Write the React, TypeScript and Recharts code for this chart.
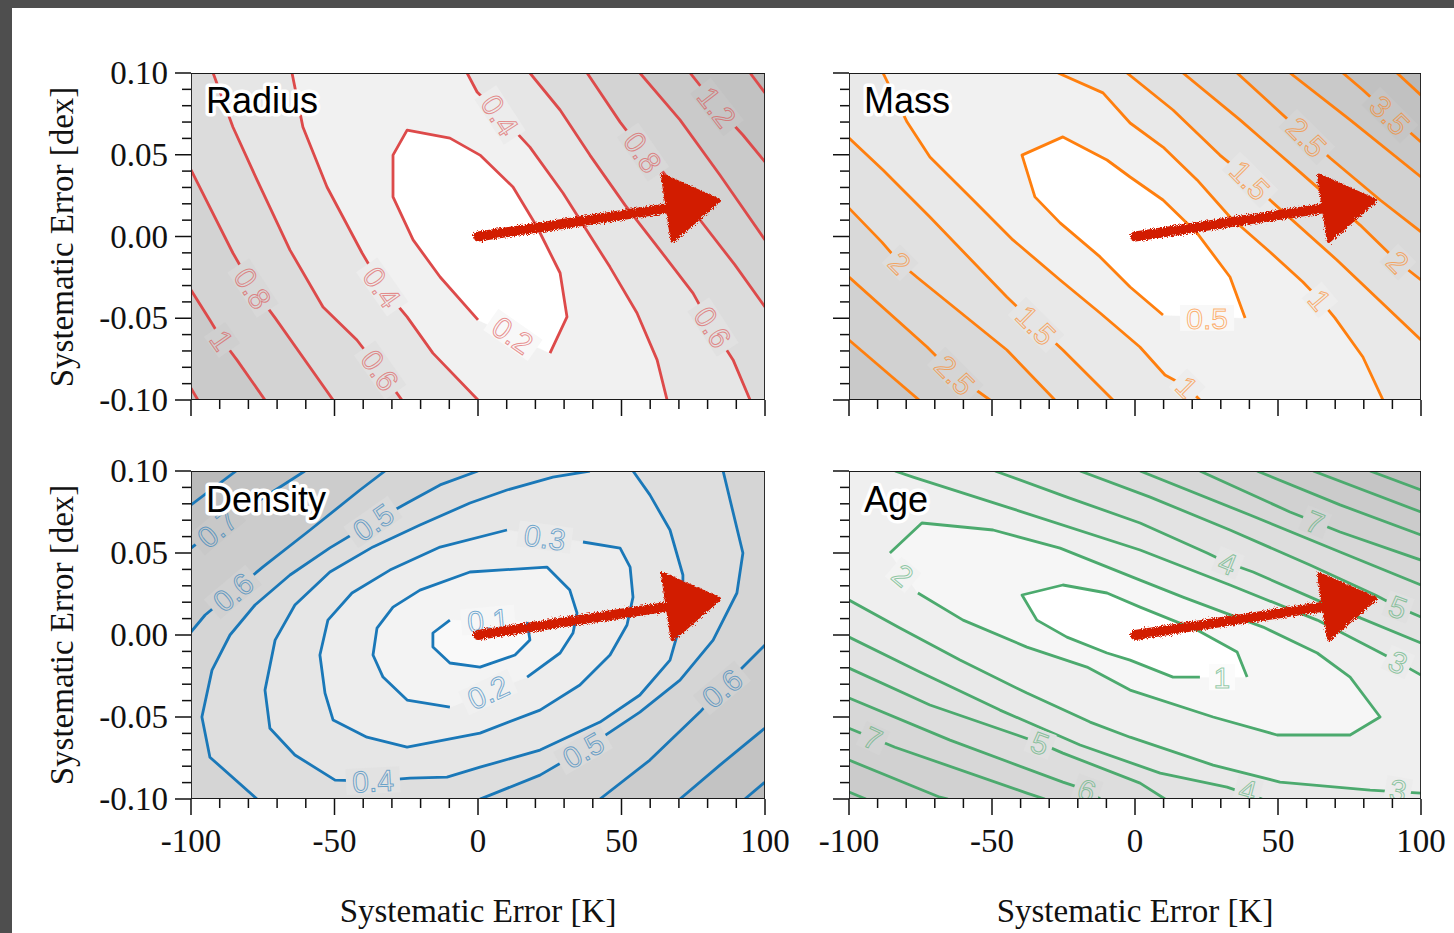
import React from "react";
import { Scatter, ScatterChart, XAxis, YAxis } from "recharts";

type Pt = [number, number];
type Lbl = { x: number; y: number; t: string; a: number; bg: string };
type Fill = { pts: Pt[]; color: string };

const xTicks = [-100, -90, -80, -70, -60, -50, -40, -30, -20, -10, 0, 10, 20, 30, 40, 50, 60, 70, 80, 90, 100];
const xMajor = [-100, -50, 0, 50, 100];
const xMajorLabels = ["-100", "-50", "0", "50", "100"];
const yTicks = [-0.1, -0.09, -0.08, -0.07, -0.06, -0.05, -0.04, -0.03, -0.02, -0.01, 0, 0.01, 0.02, 0.03, 0.04, 0.05, 0.06, 0.07, 0.08, 0.09, 0.1];
const yMajor = [-0.1, -0.05, 0, 0.05, 0.1];
const yMajorLabels = ["-0.10", "-0.05", "0.00", "0.05", "0.10"];

const TL: Pt = [-100, 0.1];
const TR: Pt = [100, 0.1];
const BL: Pt = [-100, -0.1];
const BR: Pt = [100, -0.1];
const frame: Pt[] = [BL, BR, TR, TL];
const arrow: Pt[] = [[0, 0], [84, 0.022]];

// Radius
const r02: Pt[] = [[0, -0.051], [-13.2, -0.0248], [-22.6, -0.0021], [-29.6, 0.0242], [-29.6, 0.0498], [-24.7, 0.0651], [-9.8, 0.0602], [0.7, 0.0498], [12.2, 0.0303], [20.6, 0.0058], [28.6, -0.0223], [31, -0.0492], [25.1, -0.0713]];
const r04L: Pt[] = [[-64.8, 0.1], [-61, 0.067], [-52.6, 0.0303], [-40.4, -0.0101], [-33.4, -0.0309], [-24.7, -0.0492], [-15.7, -0.0713], [0, -0.1]];
const r06L: Pt[] = [[-92.3, 0.1], [-85.4, 0.067], [-77, 0.0346], [-65.5, -0.0083], [-54, -0.0431], [-42.2, -0.0633], [-34.1, -0.0817], [-26.5, -0.1]];
const r08L: Pt[] = [[-100, 0.0407], [-85.4, -0.0101], [-78.4, -0.0315], [-70.7, -0.0498], [-50.5, -0.1]];
const r10L: Pt[] = [[-100, -0.0327], [-93.4, -0.0511], [-89.2, -0.0633], [-84, -0.0755], [-74.2, -0.1]];
const r12L: Pt[] = [[-100, -0.0927], [-97.6, -0.1]];
const r04R: Pt[] = [[-3.8, 0.1], [-0.3, 0.0884], [7.7, 0.0743], [18.1, 0.0547], [29.6, 0.0266], [46, -0.0187], [55.4, -0.0468], [62.4, -0.0755], [65.9, -0.1]];
const r06R: Pt[] = [[18.1, 0.1], [28.6, 0.0774], [39, 0.0498], [51.2, 0.0193], [63.4, -0.0083], [74.9, -0.0346], [81.5, -0.0554], [88.9, -0.0755], [94.8, -0.1]];
const r08R: Pt[] = [[38, 0.1], [49.5, 0.07], [57.5, 0.0517], [64.5, 0.0394], [77.4, 0.0101], [89.5, -0.0174], [100, -0.0431]];
const r10R: Pt[] = [[56.4, 0.1], [70.4, 0.0713], [84.3, 0.0376], [100, -0.0021]];
const r12R: Pt[] = [[73.9, 0.1], [83.3, 0.0792], [92.3, 0.0621], [100, 0.0456]];
const r14R: Pt[] = [[94.8, 0.1], [100, 0.0878]];

const radiusFills: Fill[] = [
  { pts: frame, color: "#f1f1f1" },
  { pts: [...r04L, BL, TL], color: "#e6e6e6" },
  { pts: [...r04R, BR, TR], color: "#e6e6e6" },
  { pts: [...r06L, BL, TL], color: "#dcdcdc" },
  { pts: [...r06R, BR, TR], color: "#dcdcdc" },
  { pts: [...r08L, BL], color: "#d3d3d3" },
  { pts: [...r08R, TR], color: "#d3d3d3" },
  { pts: [...r10L, BL], color: "#cacaca" },
  { pts: [...r10R, TR], color: "#cacaca" },
  { pts: [...r12L, BL], color: "#c2c2c2" },
  { pts: [...r12R, TR], color: "#c2c2c2" },
  { pts: [...r14R, TR], color: "#bababa" },
  { pts: r02, color: "#ffffff" },
];
const radiusLines: Pt[][] = [r02, r04L, r06L, r08L, r10L, r12L, r04R, r06R, r08R, r10R, r12R, r14R];
const radiusLabels: Lbl[] = [
  { x: 7.7, y: 0.0743, t: "0.4", a: 57, bg: "#ececec" },
  { x: 57.5, y: 0.0517, t: "0.8", a: 55, bg: "#d8d8d8" },
  { x: 83.3, y: 0.0792, t: "1.2", a: 52, bg: "#c6c6c6" },
  { x: 81.9, y: -0.0554, t: "0.6", a: 57, bg: "#e1e1e1" },
  { x: 12.2, y: -0.0602, t: "0.2", a: 35, bg: "#f8f8f8" },
  { x: -78.4, y: -0.0315, t: "0.8", a: 57, bg: "#d8d8d8" },
  { x: -33.4, y: -0.0309, t: "0.4", a: 55, bg: "#ececec" },
  { x: -34.1, y: -0.0817, t: "0.6", a: 55, bg: "#e1e1e1" },
  { x: -89.2, y: -0.0633, t: "1", a: 55, bg: "#cfcfcf" },
];

// Mass
const m05: Pt[] = [[9.8, -0.048], [-1.7, -0.0309], [-12.2, -0.0125], [-26.2, 0.0083], [-35, 0.0242], [-39.5, 0.0498], [-25.2, 0.0609], [-9.8, 0.0468], [-1.7, 0.0364], [9.8, 0.0223], [21.7, 0.0021], [33.2, -0.0248], [38.5, -0.0498]];
const m10L: Pt[] = [[-88.1, 0.1], [-79.7, 0.07], [-71.7, 0.0486], [-56.6, 0.0223], [-42.7, -0.0021], [-26.2, -0.0266], [-12.2, -0.0468], [1.7, -0.0676], [10.5, -0.0847], [18.2, -0.092], [22.7, -0.1]];
const m10R: Pt[] = [[-26.9, 0.1], [-11.2, 0.0878], [-1.7, 0.0694], [9.8, 0.0547], [21.7, 0.0346], [33.2, 0.0119], [47.2, -0.0095], [58.7, -0.0278], [64.7, -0.0388], [69.9, -0.0498], [79.7, -0.0737], [86.7, -0.1]];
const m15L: Pt[] = [[-100, 0.0602], [-88.1, 0.0407], [-71.7, 0.0119], [-44.8, -0.037], [-34.6, -0.0541], [-25.2, -0.0694], [-7.7, -0.1]];
const m15R: Pt[] = [[-2.8, 0.1], [13.3, 0.0774], [29.7, 0.0498], [40.2, 0.0346], [47.2, 0.0223], [70.6, -0.0144], [100, -0.0633]];
const m20L: Pt[] = [[-100, 0.0174], [-88.5, -0.0034], [-82.2, -0.0162], [-75.9, -0.0254], [-44.8, -0.0694], [-28, -0.1]];
const m20R: Pt[] = [[16.8, 0.1], [36.7, 0.0713], [57.7, 0.0394], [78.7, 0.007], [92, -0.0156], [100, -0.0266]];
const m25L: Pt[] = [[-100, -0.0248], [-72.7, -0.0676], [-62.9, -0.0847], [-50.7, -0.1]];
const m25R: Pt[] = [[35.7, 0.1], [60.1, 0.0609], [68.2, 0.048], [85.7, 0.0223], [100, 0.0028]];
const m30L: Pt[] = [[-100, -0.0633], [-75.5, -0.1]];
const m30R: Pt[] = [[54.2, 0.1], [75.2, 0.0713], [100, 0.0364]];
const m35R: Pt[] = [[72.7, 0.1], [79.7, 0.0896], [89.2, 0.0743], [100, 0.0578]];
const m40R: Pt[] = [[91.6, 0.1], [100, 0.0865]];

const massFills: Fill[] = [
  { pts: frame, color: "#f1f1f1" },
  { pts: [...m10L, BL, TL], color: "#e9e9e9" },
  { pts: [...m10R, BR, TR], color: "#e9e9e9" },
  { pts: [...m15L, BL], color: "#e1e1e1" },
  { pts: [...m15R, TR], color: "#e1e1e1" },
  { pts: [...m20L, BL], color: "#d9d9d9" },
  { pts: [...m20R, TR], color: "#d9d9d9" },
  { pts: [...m25L, BL], color: "#d1d1d1" },
  { pts: [...m25R, TR], color: "#d1d1d1" },
  { pts: [...m30L, BL], color: "#c9c9c9" },
  { pts: [...m30R, TR], color: "#c9c9c9" },
  { pts: [...m35R, TR], color: "#c1c1c1" },
  { pts: [...m40R, TR], color: "#b9b9b9" },
  { pts: m05, color: "#ffffff" },
];
const massLines: Pt[][] = [m05, m10L, m10R, m15L, m15R, m20L, m20R, m25L, m25R, m30L, m30R, m35R, m40R];
const massLabels: Lbl[] = [
  { x: -82.2, y: -0.0162, t: "2", a: 45, bg: "#dddddd" },
  { x: -34.6, y: -0.0541, t: "1.5", a: 45, bg: "#e5e5e5" },
  { x: -62.9, y: -0.0847, t: "2.5", a: 45, bg: "#d5d5d5" },
  { x: 40.2, y: 0.0346, t: "1.5", a: 45, bg: "#e5e5e5" },
  { x: 60.1, y: 0.0609, t: "2.5", a: 45, bg: "#d5d5d5" },
  { x: 89.2, y: 0.0743, t: "3.5", a: 45, bg: "#c5c5c5" },
  { x: 92, y: -0.0156, t: "2", a: 45, bg: "#dddddd" },
  { x: 64.7, y: -0.0388, t: "1", a: 50, bg: "#ededed" },
  { x: 25.2, y: -0.0498, t: "0.5", a: 0, bg: "#f8f8f8" },
  { x: 18.2, y: -0.092, t: "1", a: 45, bg: "#ededed" },
];

// Density
const d01: Pt[] = [[17.1, 0.0079], [18.1, -0.003], [12.9, -0.0122], [0.7, -0.0196], [-9.8, -0.0171], [-15.7, -0.0074], [-15.7, 0.0012], [-9.8, 0.0091]];
const d02: Pt[] = [[17.1, -0.0257], [28.6, -0.011], [33.1, 0.0012], [34.5, 0.0134], [32, 0.0274], [24, 0.0414], [-2.8, 0.0384], [-20.2, 0.0274], [-29.6, 0.017], [-35.2, 0.0042], [-36.6, -0.0122], [-33.1, -0.0257], [-24.7, -0.0397], [-9.8, -0.044]];
const d03: Pt[] = [[36.6, 0.0567], [49.5, 0.053], [53, 0.0414], [54, 0.0231], [51.9, 0.0061], [46, -0.0122], [35.5, -0.0305], [21.6, -0.0458], [0.7, -0.0598], [-24.7, -0.0684], [-38.7, -0.0623], [-50.5, -0.0519], [-53.3, -0.0354], [-55.1, -0.0122], [-52.3, 0.0091], [-43.9, 0.0256], [-30.7, 0.0396], [-13.2, 0.0536], [10.1, 0.064]];
const d04: Pt[] = [[39, 0.1], [26.1, 0.0963], [10.1, 0.0884], [-2.8, 0.0805], [-20.2, 0.0671], [-36.6, 0.0537], [-51.6, 0.0384], [-63.8, 0.0183], [-70.7, -0.0031], [-74.2, -0.0336], [-72.5, -0.0568], [-63.8, -0.0732], [-49.8, -0.0885], [-36.6, -0.0891], [-23.7, -0.0873], [-10.8, -0.0867], [0.7, -0.0806], [21.6, -0.0702], [42.5, -0.0531], [56.4, -0.0366], [66.9, -0.0153], [71.4, 0.0122], [71.4, 0.0366], [66.9, 0.064], [59.9, 0.0854], [54, 0.1]];
const d05L: Pt[] = [[-77, -0.1], [-93.4, -0.0745], [-96.2, -0.05], [-92.7, -0.0214], [-86.4, 0], [-77.7, 0.0183], [-65.5, 0.0366], [-51.6, 0.0531], [-36.6, 0.0689], [-24.7, 0.0805], [-13.2, 0.0915], [0, 0.1]];
const d05R: Pt[] = [[85.4, 0.1], [92.3, 0.05], [90.2, 0.0256], [81.9, -0.0031], [70.4, -0.0275], [56.4, -0.047], [36.6, -0.0702], [21.6, -0.0854], [4.2, -0.0976], [0.7, -0.1]];
const d06UL: Pt[] = [[-100, 0.0018], [-95.1, 0.0122], [-85.4, 0.0262], [-74.9, 0.0415], [-58.5, 0.064], [-41.1, 0.0884], [-32.4, 0.1]];
const d07UL: Pt[] = [[-100, 0.053], [-90.9, 0.0652], [-76, 0.0823], [-60.3, 0.1]];
const d08UL: Pt[] = [[-100, 0.0793], [-84.3, 0.1]];
const d06LR: Pt[] = [[42.5, -0.1], [59.9, -0.0763], [77.3, -0.047], [85, -0.0324], [100, -0.0061]];
const d07LR: Pt[] = [[70.4, -0.1], [84.3, -0.0793], [100, -0.0567]];
const d08LR: Pt[] = [[93, -0.1], [100, -0.0897]];

const densityFills: Fill[] = [
  { pts: frame, color: "#d5d5d5" },
  { pts: [...d06UL, TL], color: "#cccccc" },
  { pts: [...d07UL, TL], color: "#c3c3c3" },
  { pts: [...d08UL, TL], color: "#bababa" },
  { pts: [...d06LR, BR], color: "#cccccc" },
  { pts: [...d07LR, BR], color: "#c3c3c3" },
  { pts: [...d08LR, BR], color: "#bababa" },
  { pts: [...d05L, ...d05R], color: "#dedede" },
  { pts: d04, color: "#e6e6e6" },
  { pts: d03, color: "#ededed" },
  { pts: d02, color: "#f3f3f3" },
  { pts: d01, color: "#f9f9f9" },
];
const densityLines: Pt[][] = [d01, d02, d03, d04, d05L, d05R, d06UL, d07UL, d08UL, d06LR, d07LR, d08LR];
const densityLabels: Lbl[] = [
  { x: 3.5, y: 0.0091, t: "0.1", a: -5, bg: "#f6f6f6" },
  { x: 3.5, y: -0.0348, t: "0.2", a: -25, bg: "#f0f0f0" },
  { x: 23.3, y: 0.0597, t: "0.3", a: 8, bg: "#eaeaea" },
  { x: -36.6, y: -0.0888, t: "0.4", a: -3, bg: "#e2e2e2" },
  { x: -36.6, y: 0.0689, t: "0.5", a: -35, bg: "#dadada" },
  { x: 36.6, y: -0.0702, t: "0.5", a: -30, bg: "#dadada" },
  { x: -85.4, y: 0.0262, t: "0.6", a: -40, bg: "#d1d1d1" },
  { x: 85, y: -0.0324, t: "0.6", a: -40, bg: "#d1d1d1" },
  { x: -90.9, y: 0.0652, t: "0.7", a: -40, bg: "#c8c8c8" },
];

// Age
const a1: Pt[] = [[39.2, -0.0257], [35.7, -0.0104], [21.7, 0.003], [1.8, 0.017], [-9.8, 0.0256], [-25.2, 0.0305], [-39.5, 0.0244], [-34.3, 0.0091], [-23.8, -0.0013], [-9.8, -0.011], [-1.7, -0.0153], [13.3, -0.0257], [22.7, -0.0257]];
const a2: Pt[] = [[-75.9, 0.0256], [-60.1, 0.0091], [-37.8, -0.0074], [-16.8, -0.0196], [-1.7, -0.0336], [27.3, -0.05], [49.7, -0.061], [75.2, -0.061], [85.7, -0.05], [75.2, -0.0257], [63.7, -0.011], [44.8, 0.0048], [16.8, 0.0231], [1.8, 0.0335], [-26.2, 0.053], [-49.6, 0.064], [-74.5, 0.0683], [-85.7, 0.05]];
const a3U: Pt[] = [[-83.9, 0.1], [-77.6, 0.0963], [-44.7, 0.078], [1.8, 0.0518], [33.2, 0.0305], [63.7, 0.0091], [84, -0.0092], [92, -0.0165], [100, -0.0244]];
const a4U: Pt[] = [[-48.9, 0.1], [-23.8, 0.0841], [1.8, 0.0683], [25.2, 0.05], [32.5, 0.0439], [41.3, 0.0384], [63.7, 0.0213], [100, -0.0049]];
const a5U: Pt[] = [[-19.2, 0.1], [5.3, 0.0841], [33.2, 0.064], [61.2, 0.0427], [84, 0.0244], [92, 0.017], [100, 0.011]];
const a6U: Pt[] = [[1.8, 0.1], [40.2, 0.0732], [71.7, 0.0506], [100, 0.0305]];
const a7U: Pt[] = [[22.7, 0.1], [54.2, 0.075], [63, 0.0689], [71.7, 0.0628], [100, 0.0457]];
const a8U: Pt[] = [[42.7, 0.1], [71.7, 0.0793], [100, 0.061]];
const a9U: Pt[] = [[62.3, 0.1], [100, 0.075]];
const a10U: Pt[] = [[82.2, 0.1], [100, 0.0884]];
const a3L: Pt[] = [[-100, 0.0213], [-82.2, 0.0042], [-61.2, -0.0153], [-37.8, -0.0354], [-15.7, -0.0531], [-1.7, -0.0623], [27.3, -0.0793], [50.7, -0.0897], [82.2, -0.0946], [100, -0.0964]];
const a4L: Pt[] = [[-100, -0.0013], [-75.2, -0.0226], [-47.2, -0.0458], [-19.2, -0.0671], [8.8, -0.0842], [32.2, -0.0928], [44.4, -0.1]];
const a5L: Pt[] = [[-100, -0.0202], [-71.7, -0.0427], [-41.3, -0.061], [-33.2, -0.0659], [-25.2, -0.072], [1.8, -0.0903], [10.5, -0.1]];
const a6L: Pt[] = [[-100, -0.0385], [-64.7, -0.0641], [-25.2, -0.0897], [-16.8, -0.0946], [-12.2, -0.1]];
const a7L: Pt[] = [[-100, -0.0568], [-83.9, -0.0684], [-37.8, -0.0964], [-31.5, -0.1]];
const a8L: Pt[] = [[-100, -0.0763], [-68.2, -0.0989], [-65.4, -0.1]];
const a9L: Pt[] = [[-100, -0.0958], [-94.1, -0.1]];

const ageFills: Fill[] = [
  { pts: frame, color: "#efefef" },
  { pts: [...a3U, TR], color: "#e9e9e9" },
  { pts: [...a4U, TR], color: "#e3e3e3" },
  { pts: [...a5U, TR], color: "#dddddd" },
  { pts: [...a6U, TR], color: "#d7d7d7" },
  { pts: [...a7U, TR], color: "#d1d1d1" },
  { pts: [...a8U, TR], color: "#cbcbcb" },
  { pts: [...a9U, TR], color: "#c5c5c5" },
  { pts: [...a10U, TR], color: "#bfbfbf" },
  { pts: [...a3L, BR, BL], color: "#e9e9e9" },
  { pts: [...a4L, BL], color: "#e3e3e3" },
  { pts: [...a5L, BL], color: "#dddddd" },
  { pts: [...a6L, BL], color: "#d7d7d7" },
  { pts: [...a7L, BL], color: "#d1d1d1" },
  { pts: [...a8L, BL], color: "#cbcbcb" },
  { pts: [...a9L, BL], color: "#c5c5c5" },
  { pts: a2, color: "#f6f6f6" },
  { pts: a1, color: "#ffffff" },
];
const ageLines: Pt[][] = [a1, a2, a3U, a4U, a5U, a6U, a7U, a8U, a9U, a10U, a3L, a4L, a5L, a6L, a7L, a8L, a9L];
const ageLabels: Lbl[] = [
  { x: 30.4, y: -0.0257, t: "1", a: 0, bg: "#fbfbfb" },
  { x: -81.1, y: 0.0366, t: "2", a: 40, bg: "#f3f3f3" },
  { x: 92, y: -0.0165, t: "3", a: 25, bg: "#ececec" },
  { x: 92, y: -0.0946, t: "3", a: 10, bg: "#ececec" },
  { x: 32.5, y: 0.0439, t: "4", a: 22, bg: "#e6e6e6" },
  { x: 39.5, y: -0.0946, t: "4", a: 15, bg: "#e6e6e6" },
  { x: 92, y: 0.017, t: "5", a: 20, bg: "#e0e0e0" },
  { x: -33.2, y: -0.0659, t: "5", a: 20, bg: "#e0e0e0" },
  { x: -16.8, y: -0.0946, t: "6", a: 20, bg: "#dadada" },
  { x: 63, y: 0.0689, t: "7", a: 22, bg: "#d4d4d4" },
  { x: -91.6, y: -0.0629, t: "7", a: 25, bg: "#d4d4d4" },
];

const rows = (p: Pt[]) => p.map(([x, y]) => ({ x, y }));
const toPath = (ps: { x: number; y: number }[], close: boolean) =>
  ps.map((p, i) => (i ? "L" : "M") + p.x.toFixed(1) + "," + p.y.toFixed(1)).join(" ") + (close ? " Z" : "");
const Empty = () => <g />;
const serif = "'Liberation Serif', 'Times New Roman', serif";
const sans = "'Liberation Sans', Arial, sans-serif";

function XTick(p: any) {
  const k = xMajor.indexOf(p.payload.value);
  return (
    <g>
      <line x1={p.x} x2={p.x} y1={p.y} y2={p.y + (k >= 0 ? 16 : 9)} stroke="#111" strokeWidth={1.5} />
      {k >= 0 && p.show ? (
        <text x={p.x} y={p.y + 53} textAnchor="middle" fontFamily={serif} fontSize={33} fill="#111">
          {xMajorLabels[k]}
        </text>
      ) : null}
    </g>
  );
}

function YTick(p: any) {
  const k = yMajor.findIndex((v) => Math.abs(v - p.payload.value) < 1e-9);
  return (
    <g>
      <line x1={p.x} x2={p.x - (k >= 0 ? 16 : 9)} y1={p.y} y2={p.y} stroke="#111" strokeWidth={1.5} />
      {k >= 0 && p.show ? (
        <text x={p.x - 23} y={p.y + 11} textAnchor="end" fontFamily={serif} fontSize={33} fill="#111">
          {yMajorLabels[k]}
        </text>
      ) : null}
    </g>
  );
}

function ContourLabel(p: any) {
  const d = p.payload as Lbl;
  const w = d.t.length * 14 + 12;
  return (
    <g transform={`rotate(${d.a} ${p.cx} ${p.cy})`}>
      <rect x={p.cx - w / 2} y={p.cy - 13} width={w} height={26} fill={d.bg} />
      <text
        x={p.cx}
        y={p.cy + 11}
        textAnchor="middle"
        fontFamily={sans}
        fontSize={30}
        fill="none"
        stroke={p.color}
        strokeOpacity={0.6}
        strokeWidth={1}
      >
        {d.t}
      </text>
    </g>
  );
}

function ArrowMark(p: any) {
  const [a, b] = p.points;
  const dx = b.x - a.x;
  const dy = b.y - a.y;
  const len = Math.hypot(dx, dy);
  const ux = dx / len;
  const uy = dy / len;
  const bx = b.x - ux * 52;
  const by = b.y - uy * 52;
  return (
    <g filter="url(#rough)">
      <defs>
        <filter id="rough" x="-10%" y="-30%" width="120%" height="160%">
          <feTurbulence type="fractalNoise" baseFrequency="0.9" numOctaves={2} result="n" />
          <feDisplacementMap in="SourceGraphic" in2="n" scale={6} />
        </filter>
      </defs>
      <line x1={a.x} y1={a.y} x2={bx + ux * 12} y2={by + uy * 12} stroke="#d21d00" strokeWidth={10} strokeLinecap="round" />
      <path
        d={`M${b.x},${b.y} L${bx - uy * 33},${by + ux * 33} L${bx + uy * 33},${by - ux * 33} Z`}
        fill="#d21d00"
        stroke="#d21d00"
        strokeWidth={4}
        strokeLinejoin="round"
      />
    </g>
  );
}

type PanelProps = {
  left: number;
  top: number;
  width: number;
  height: number;
  mTop: number;
  mRight: number;
  yw: number;
  xh: number;
  showX: boolean;
  showY: boolean;
  fills: Fill[];
  lines: Pt[][];
  labels: Lbl[];
  color: string;
};

function Panel(pp: PanelProps) {
  return (
    <div style={{ position: "absolute", left: pp.left, top: pp.top }}>
      <ScatterChart width={pp.width} height={pp.height} margin={{ top: pp.mTop, right: pp.mRight, bottom: 0, left: 0 }}>
        <XAxis
          type="number"
          dataKey="x"
          domain={[-100, 100]}
          ticks={xTicks}
          interval={0}
          allowDataOverflow
          height={pp.xh}
          tickSize={0}
          tickMargin={0}
          tickLine={false}
          axisLine={false}
          tick={(p: any) => <XTick {...p} show={pp.showX} />}
        />
        <YAxis
          type="number"
          dataKey="y"
          domain={[-0.1, 0.1]}
          ticks={yTicks}
          interval={0}
          allowDataOverflow
          width={pp.yw}
          tickSize={0}
          tickMargin={0}
          tickLine={false}
          axisLine={false}
          tick={(p: any) => <YTick {...p} show={pp.showY} />}
        />
        {pp.fills.map((f, i) => (
          <Scatter
            key={"f" + i}
            data={rows(f.pts)}
            shape={Empty}
            isAnimationActive={false}
            line={(lp: any) => <path d={toPath(lp.points, true)} fill={f.color} stroke={f.color} strokeWidth={0.6} />}
          />
        ))}
        {pp.lines.map((l, i) => (
          <Scatter
            key={"l" + i}
            data={rows(l)}
            shape={Empty}
            isAnimationActive={false}
            line={(lp: any) => (
              <path d={toPath(lp.points, false)} fill="none" stroke={pp.color} strokeWidth={2.8} strokeLinejoin="round" />
            )}
          />
        ))}
        <Scatter
          data={pp.labels}
          isAnimationActive={false}
          shape={(sp: any) => <ContourLabel {...sp} color={pp.color} />}
        />
        <Scatter data={rows(arrow)} shape={Empty} isAnimationActive={false} line={(lp: any) => <ArrowMark {...lp} />} />
        <Scatter
          data={rows(frame)}
          shape={Empty}
          isAnimationActive={false}
          line={(lp: any) => <path d={toPath(lp.points, true)} fill="none" stroke="#1a1a1a" strokeWidth={1.8} />}
        />
      </ScatterChart>
    </div>
  );
}

const titleStyle = {
  fontFamily: sans,
  fontSize: 36,
  fill: "#000",
  stroke: "#fff",
  strokeWidth: 7,
  strokeLinejoin: "round" as const,
  paintOrder: "stroke",
};

export default function App() {
  return (
    <div style={{ position: "absolute", left: 0, top: 0, width: 1454, height: 933, background: "#4e4e4e", overflow: "hidden" }}>
      <div style={{ position: "absolute", left: 12, top: 8, width: 1442, height: 925, background: "#fff" }} />
      <Panel left={90} top={50} width={700} height={370} mTop={23} mRight={25} yw={101} xh={20} showX={false} showY
        fills={radiusFills} lines={radiusLines} labels={radiusLabels} color="#dd4a4a" />
      <Panel left={800} top={50} width={651} height={370} mTop={23} mRight={30} yw={49} xh={20} showX={false} showY={false}
        fills={massFills} lines={massLines} labels={massLabels} color="#ff7f0e" />
      <Panel left={90} top={450} width={700} height={409} mTop={21} mRight={25} yw={101} xh={60} showX showY
        fills={densityFills} lines={densityLines} labels={densityLabels} color="#1a78b8" />
      <Panel left={800} top={450} width={651} height={409} mTop={21} mRight={30} yw={49} xh={60} showX showY={false}
        fills={ageFills} lines={ageLines} labels={ageLabels} color="#4caa6e" />
      <svg width={1454} height={933} style={{ position: "absolute", left: 0, top: 0, pointerEvents: "none" }}>
        <text x={206} y={113} style={titleStyle}>Radius</text>
        <text x={864} y={113} style={titleStyle}>Mass</text>
        <text x={206} y={512} style={titleStyle}>Density</text>
        <text x={864} y={512} style={titleStyle}>Age</text>
        <text transform="translate(73,237) rotate(-90)" textAnchor="middle" fontFamily={serif} fontSize={33} fill="#111">
          Systematic Error [dex]
        </text>
        <text transform="translate(73,635) rotate(-90)" textAnchor="middle" fontFamily={serif} fontSize={33} fill="#111">
          Systematic Error [dex]
        </text>
        <text x={478} y={922} textAnchor="middle" fontFamily={serif} fontSize={33} fill="#111">
          Systematic Error [K]
        </text>
        <text x={1135} y={922} textAnchor="middle" fontFamily={serif} fontSize={33} fill="#111">
          Systematic Error [K]
        </text>
      </svg>
    </div>
  );
}
